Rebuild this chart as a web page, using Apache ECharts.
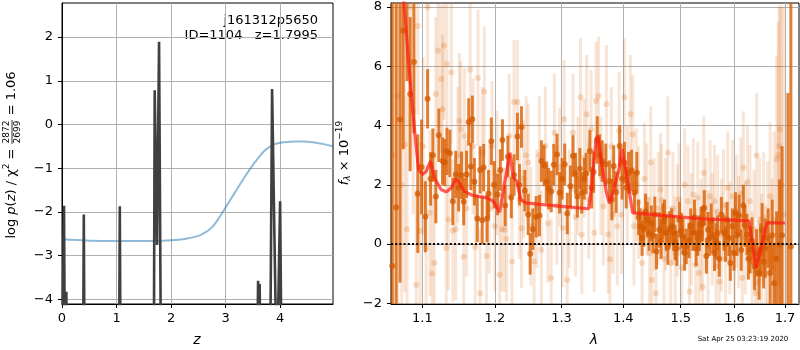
<!DOCTYPE html>
<html><head><meta charset="utf-8">
<script src="https://cdn.jsdelivr.net/npm/echarts@6/dist/echarts.min.js"></script>
<style>html,body{margin:0;padding:0;background:#fff}#c{width:800px;height:350px}</style>
</head><body><div id="c"></div>
<script>
// ---- tick labels ----
const zTicks = [0, 1, 2, 3, 4];
const pzTicks = [-4, -3, -2, -1, 0, 1, 2];
const lamTicks = [1.1, 1.2, 1.3, 1.4, 1.5, 1.6, 1.7];
const fluxTicks = [-2, 0, 2, 4, 6, 8];

// ---- left panel: log p(z) (black) and prior-like curve (blue) ----
const pzBlack = [
  [0.000,-6],[0.025,-6],[0.037,-1.86],[0.055,-6],[0.070,-6],[0.080,-3.83],[0.090,-6],
  [0.385,-6],[0.400,-2.06],[0.415,-6],
  [1.045,-6],[1.060,-1.87],[1.075,-6],
  [1.683,-6],[1.700,0.78],[1.743,-2.76],[1.780,1.89],[1.817,-6],
  [3.575,-6],[3.596,-3.58],[3.610,-3.9],[3.625,-3.65],[3.645,-6],
  [3.815,-6],[3.853,0.81],[3.940,-6],[3.950,-6],[4.000,-1.76],[4.030,-6],[4.970,-6]
];
const pzBlue = [
  [0.0,-2.63],[0.5,-2.66],[1.0,-2.67],[1.5,-2.67],[2.0,-2.65],[2.25,-2.62],[2.5,-2.55],
  [2.6,-2.49],[2.7,-2.41],[2.8,-2.28],[2.9,-2.1],[3.0,-1.9],[3.1,-1.7],[3.2,-1.5],[3.3,-1.3],
  [3.4,-1.11],[3.5,-0.93],[3.6,-0.77],[3.7,-0.62],[3.8,-0.52],[3.9,-0.45],[4.0,-0.42],
  [4.15,-0.40],[4.3,-0.39],[4.45,-0.39],[4.6,-0.41],[4.8,-0.45],[4.97,-0.5]
];

// ---- right panel: spectrum [lambda, flux, err] ----
const darkSpec = [
  [1.061,-0.74,12],[1.066,1.23,12],[1.071,4.2,5.5],[1.075,7.2,4],[1.080,9.0,3.5],[1.084,5.06,2.6],
  [1.089,6.14,2.4],[1.094,1.7,2.0],[1.099,2.6,1.6],[1.104,0.92,1.2],[1.107,4.9,1.0],[1.111,2.2,0.9],
  [1.114,3.0,0.9],[1.118,1.6,0.9],[1.122,3.67,0.9],[1.127,2.8,0.8],[1.130,2.75,0.8],[1.133,3.13,0.8],
  [1.137,3.06,0.8],[1.141,1.44,0.8],[1.145,2.35,0.8],[1.149,1.9,0.8],[1.153,2.32,0.8],[1.156,1.43,0.8],
  [1.160,2.35,0.8],[1.163,4.12,0.8],[1.166,2.62,0.8],[1.168,4.21,0.8],[1.171,2.1,0.8],[1.175,0.86,0.8],
  [1.179,2.5,0.8],[1.182,0.8,0.8],[1.184,2.58,0.8],[1.189,0.86,0.8],[1.191,1.7,0.8],[1.195,3.47,0.8],
  [1.199,2.0,0.8],
  [1.204,1.67,0.7],[1.208,2.5,0.7],[1.211,3.51,0.7],[1.215,1.3,0.7],[1.219,2.95,0.7],[1.224,1.57,0.7],
  [1.228,2.33,0.7],[1.233,3.63,0.8],[1.236,2.0,0.7],[1.239,3.95,0.7],[1.244,1.8,0.7],[1.249,1.0,0.7],
  [1.252,-0.33,0.7],[1.256,0.5,0.7],[1.261,0.92,0.7],[1.266,0.96,0.7],[1.269,2.8,0.7],[1.273,2.65,0.7],
  [1.277,2.09,0.7],[1.280,1.87,0.7],[1.284,1.77,0.7],[1.288,2.68,0.7],[1.293,3.02,0.7],[1.297,1.73,0.7],
  [1.301,2.2,0.7],[1.305,2.69,0.7],[1.309,1.03,0.7],[1.314,1.95,0.7],[1.318,2.97,0.7],[1.322,2.38,0.7],
  [1.325,1.6,0.7],[1.329,2.54,0.7],[1.332,1.73,0.7],[1.336,2.2,0.7],[1.339,2.38,0.7],[1.345,3.14,0.7],
  [1.348,1.9,0.7],[1.351,2.43,0.7],[1.357,3.51,0.8],[1.361,3.0,0.7],[1.365,2.8,0.7],[1.371,2.69,0.7],
  [1.377,2.12,0.7],[1.381,1.5,0.7],[1.384,2.63,0.7],[1.388,1.75,0.7],[1.394,3.31,0.7],[1.398,2.2,0.7],
  [1.402,2.75,0.7],[1.405,1.9,0.7],[1.409,2.41,0.7],[1.414,2.48,0.7],[1.419,1.73,0.7],[1.423,2.41,0.7],
  [1.426,0.9,0.6],[1.429,0.6,0.6],[1.432,0.2,0.6],[1.435,0.51,0.6],[1.438,1.1,0.6],[1.441,0.82,0.6],
  [1.444,0.37,0.6],[1.448,0.7,0.6],[1.451,0.3,0.6],[1.454,1.0,0.6],[1.457,-0.25,0.6],[1.462,0.48,0.6],
  [1.465,0.1,0.6],[1.468,0.77,0.6],[1.471,0.9,0.6],[1.474,0.37,0.6],[1.477,-0.1,0.6],[1.480,0.51,0.6],
  [1.484,0.6,0.6],[1.487,0.37,0.6],[1.490,0.05,0.6],[1.493,-0.14,0.6],[1.498,0.82,0.6],[1.501,0.45,0.6],
  [1.504,0.26,0.6],[1.507,-0.3,0.6],[1.510,-0.08,0.6],[1.515,0.12,0.6],[1.518,0.6,0.6],[1.522,0.37,0.6],
  [1.525,0.9,0.6],[1.528,-0.14,0.6],[1.531,0.2,0.6],[1.534,0.37,0.6],[1.537,0.65,0.6],[1.540,0.69,0.6],
  [1.543,1.22,0.6],[1.547,-0.4,0.6],[1.550,0.48,0.6],[1.553,0.2,0.6],[1.556,0.77,0.6],[1.559,0.3,0.6],
  [1.562,-0.31,0.6],[1.565,0.1,0.6],[1.568,0.37,0.6],[1.571,-0.5,0.6],[1.575,0.99,0.6],[1.580,0.37,0.6],
  [1.583,0.0,0.6],[1.586,0.82,0.6],[1.589,0.2,0.6],[1.592,-0.64,0.6],[1.596,0.6,0.6],[1.599,-0.3,0.6],
  [1.602,1.05,0.7],[1.605,0.3,0.7],[1.609,0.96,0.7],[1.613,-0.2,0.7],[1.617,1.3,0.7],[1.620,0.6,0.7],
  [1.624,0.32,0.7],[1.627,-0.5,0.7],[1.630,-0.19,0.8],[1.634,0.1,0.8],[1.639,-0.76,0.8],[1.643,-0.3,0.8],
  [1.648,-0.98,0.9],[1.651,-0.2,0.9],[1.654,0.48,0.9],[1.657,-0.6,0.9],[1.660,-0.14,1.0],[1.666,0.2,1.0],
  [1.670,-0.98,1.1],[1.674,0.3,1.2],[1.678,-1.32,1.3],[1.683,-0.5,1.6],[1.689,-0.02,2.2],[1.694,0.3,3.0],
  [1.706,-3.5,8.6],[1.712,-0.08,12]
];
const lightSpec = [
  [1.062,3.0,9],[1.068,5.0,8],[1.073,2.0,6],[1.077,3.36,5],[1.080,0.5,4.5],[1.084,8.0,4],[1.088,4.5,3.5],
  [1.092,-1.38,3.2],[1.094,7.36,3.0],[1.097,0.45,3.0],[1.101,3.3,3.0],[1.105,-0.13,2.8],[1.107,8.0,2.8],
  [1.110,1.05,2.8],[1.113,-1.0,2.6],[1.116,-0.64,2.6],[1.118,5.06,2.6],[1.121,6.53,2.6],[1.125,5.57,2.5],
  [1.127,4.55,2.5],[1.129,6.7,2.5],[1.132,-0.13,2.4],[1.133,6.08,2.4],[1.135,0.83,2.4],[1.139,5.8,2.4],
  [1.141,0.45,2.4],[1.145,0.5,2.4],[1.148,3.0,2.3],[1.150,4.15,2.3],[1.152,3.87,2.3],[1.156,-0.43,2.3],
  [1.157,3.65,2.3],[1.160,1.2,2.3],[1.165,5.88,2.3],[1.169,3.3,2.3],[1.172,-0.1,2.3],[1.176,5.6,2.3],
  [1.179,-1.66,2.2],[1.182,3.1,2.2],[1.185,5.15,2.2],[1.188,-0.4,2.2],[1.192,1.2,2.2],[1.196,3.3,2.2],
  [1.200,0.6,2.2],[1.203,2.4,2.1],[1.207,-1.04,2.1],[1.210,0.5,2.1],[1.214,0.48,2.1],[1.217,0.17,2.1],
  [1.221,3.65,2.1],[1.225,-0.59,2.1],[1.228,4.79,2.1],[1.233,4.79,2.1],[1.236,1.5,2.0],[1.239,0.52,2.0],
  [1.242,2.2,2.0],[1.246,3.0,2.0],[1.249,2.75,2.0],[1.253,0.6,2.0],[1.258,-0.59,2.0],[1.262,1.2,2.0],
  [1.266,3.0,2.0],[1.269,-0.19,2.0],[1.275,3.31,2.0],[1.279,0.69,2.0],[1.284,-1.15,2.0],[1.289,3.76,2.0],
  [1.293,1.3,2.0],[1.297,2.6,2.0],[1.302,0.54,2.0],[1.304,4.21,2.0],[1.309,-1.21,2.0],[1.312,1.2,2.0],
  [1.318,3.76,2.0],[1.322,0.9,2.0],[1.326,2.3,2.0],[1.330,4.95,2.0],[1.332,0.31,2.0],[1.336,2.9,2.0],
  [1.340,4.38,2.0],[1.343,1.5,2.0],[1.347,3.87,2.0],[1.352,0.38,2.0],[1.355,4.83,2.0],[1.359,5.0,2.0],
  [1.363,2.3,2.0],[1.367,1.27,2.0],[1.372,4.72,2.0],[1.375,0.32,2.0],[1.378,-0.51,2.0],[1.380,3.3,2.0],
  [1.383,1.0,2.0],[1.390,0.6,2.0],[1.393,3.82,2.0],[1.397,0.99,2.0],[1.402,4.95,2.0],[1.407,2.0,2.0],
  [1.412,4.38,2.0],[1.416,3.7,2.0],[1.418,0.6,2.0],[1.422,2.0,1.9],[1.426,1.4,1.9],[1.432,-0.64,1.9],
  [1.436,2.2,1.9],[1.440,1.5,1.9],[1.445,-0.3,1.9],[1.447,2.75,1.9],[1.449,-1.21,1.9],[1.453,1.0,1.9],
  [1.456,-1.66,1.9],[1.460,1.2,1.9],[1.464,1.84,1.9],[1.466,1.48,1.9],[1.470,-0.5,1.9],[1.473,1.0,1.9],
  [1.477,3.08,1.9],[1.482,-0.64,1.9],[1.486,1.2,1.9],[1.490,-0.3,1.9],[1.494,0.8,1.9],[1.497,1.5,1.9],
  [1.502,-0.8,1.9],[1.507,2.0,1.9],[1.513,1.44,1.9],[1.516,-1.6,1.9],[1.519,0.5,1.9],[1.523,1.67,1.9],
  [1.527,-0.7,1.9],[1.531,1.56,1.9],[1.533,-0.98,1.9],[1.537,0.3,1.9],[1.540,-1.44,1.9],[1.542,2.41,1.9],
  [1.546,1.0,1.9],[1.550,-0.1,1.9],[1.554,1.6,1.9],[1.558,0.5,1.9],[1.562,1.44,1.9],[1.565,-0.76,1.9],
  [1.568,1.1,1.9],[1.571,-1.27,1.9],[1.575,0.3,1.9],[1.579,1.3,1.9],[1.583,-0.5,1.9],[1.587,1.9,1.9],
  [1.591,0.2,1.9],[1.596,1.61,1.9],[1.600,-0.3,1.9],[1.604,1.1,1.9],[1.608,0.4,1.9],[1.612,1.7,1.9],
  [1.615,-1.15,1.9],[1.617,2.58,1.9],[1.621,0.2,1.9],[1.625,2.09,1.9],[1.630,1.44,1.9],[1.634,-0.9,2.0],
  [1.638,0.5,2.0],[1.641,-1.66,2.1],[1.643,2.99,2.1],[1.646,-1.3,2.1],[1.649,0.82,2.1],[1.653,-0.5,2.2],
  [1.657,0.9,2.2],[1.661,-1.0,2.3],[1.665,0.4,2.4],[1.670,1.61,2.5],[1.674,-0.4,2.6],[1.678,0.8,3.0],
  [1.683,2.86,3.5],[1.686,3.0,4.5],[1.688,3.3,4.7],[1.690,3.87,4.2],[1.693,2.0,6.0],[1.697,1.0,7.0]
];
const modelLine = [
  [1.072,9.0],[1.076,8.15],[1.082,6.15],[1.085,5.2],[1.090,3.77],[1.095,2.52],[1.100,2.35],[1.105,2.45],
  [1.111,2.8],[1.116,2.24],[1.125,1.84],[1.132,1.76],[1.139,1.9],[1.145,2.2],[1.149,2.1],[1.157,1.78],
  [1.168,1.64],[1.178,1.6],[1.189,1.56],[1.198,1.44],[1.207,1.07],[1.213,1.9],[1.222,3.08],[1.227,2.24],
  [1.232,2.12],[1.238,1.5],[1.245,1.39],[1.300,1.27],[1.343,1.19],[1.348,1.95],[1.355,3.54],[1.358,3.65],
  [1.363,2.86],[1.372,1.74],[1.377,1.37],[1.384,1.84],[1.393,2.52],[1.398,3.22],[1.405,2.41],[1.416,1.05],
  [1.540,0.85],[1.628,0.78],[1.642,-0.8],[1.664,0.72],[1.700,0.71]
];
const zeroLine = [[1.0594,0],[1.7288,0]];

const FF = 'DejaVu Sans';
const minus = v => String(v).replace('-', '\u2212');

function errSeries(data, color, w, z) {
  return {
    type: 'custom', xAxisIndex: 1, yAxisIndex: 1, clip: true, silent: true, z: z,
    data: data.map(d => [d[0], d[1], d[2]]),
    encode: { x: 0, y: 1 },
    renderItem: function (p, api) {
      const x = api.value(0), y = api.value(1), e = api.value(2);
      const a = api.coord([x, y + e]), b = api.coord([x, y - e]);
      return { type: 'rect', shape: { x: a[0] - w / 2, y: a[1], width: w, height: b[1] - a[1] }, style: { fill: color } };
    }
  };
}
function ptSeries(data, color, size, z) {
  return {
    type: 'scatter', xAxisIndex: 1, yAxisIndex: 1, clip: true, silent: true, z: z,
    symbol: 'circle', symbolSize: size, data: data.map(d => [d[0], d[1]]),
    itemStyle: { color: color, borderWidth: 0 }
  };
}

function textW(t, font) {
  return new echarts.graphic.Text({ style: { text: t, font: font } }).getBoundingRect().width;
}
// pieces laid along a rotated baseline (reads bottom-to-top)
function rotLabel(cx, cy, pieces) {
  const ws = pieces.map(p => p.frac ? Math.max(textW(p.frac[0], p.font), textW(p.frac[1], p.font)) + 2 : textW(p.t, p.font));
  const total = ws.reduce((a, b) => a + b, 0);
  let x = -total / 2;
  const children = [];
  pieces.forEach((p, i) => {
    if (p.frac) {
      const mid = x + ws[i] / 2;
      children.push({ type: 'text', x: mid, y: -1.2, style: { text: p.frac[0], font: p.font, fill: '#000', align: 'center', verticalAlign: 'bottom', textAlign: 'center', textVerticalAlign: 'bottom' } });
      children.push({ type: 'text', x: mid, y: 1.0, style: { text: p.frac[1], font: p.font, fill: '#000', align: 'center', verticalAlign: 'top', textAlign: 'center', textVerticalAlign: 'top' } });
      children.push({ type: 'line', shape: { x1: x + 0.5, y1: 0, x2: x + ws[i] - 0.5, y2: 0 }, style: { stroke: '#000', lineWidth: 0.8 } });
    } else {
      children.push({ type: 'text', x: x, y: p.dy || 0, style: { text: p.t, font: p.font, fill: '#000', align: 'left', verticalAlign: 'middle', textAlign: 'left', textVerticalAlign: 'middle' } });
    }
    x += ws[i];
  });
  return { type: 'group', x: cx, y: cy, rotation: Math.PI / 2, children: children, silent: true };
}

const chart = echarts.init(document.getElementById('c'), null, { renderer: 'canvas' });
const N = '13px "' + FF + '"', I = 'italic 13px "' + FF + '"', S = '9px "' + FF + '"', SI = 'italic 9px "' + FF + '"';

const axisCommon = {
  axisLine: { show: true, onZero: false, lineStyle: { color: '#000', width: 1 } },
  splitLine: { show: true, lineStyle: { color: '#b0b0b0', width: 1 } },
};

chart.setOption({
  animation: false,
  backgroundColor: '#fff',
  grid: [
    { left: 62, top: 3, width: 271, height: 301, show: true, borderColor: '#000', borderWidth: 1, backgroundColor: 'transparent' },
    { left: 391, top: 3, width: 408, height: 301, show: true, borderColor: '#000', borderWidth: 1, backgroundColor: 'transparent' }
  ],
  xAxis: [
    Object.assign({ gridIndex: 0, type: 'value', min: 0, max: 4.97, interval: 1,
      axisTick: { show: true, length: 4, inside: false, customValues: zTicks, lineStyle: { color: '#000' } },
      axisLabel: { customValues: zTicks, fontFamily: FF, fontSize: 13, color: '#000', margin: 8, formatter: v => minus(v) } }, axisCommon),
    Object.assign({ gridIndex: 1, type: 'log', logBase: 10, min: 1.0594, max: 1.7288,
      axisTick: { show: true, length: 4, inside: false, customValues: lamTicks, lineStyle: { color: '#000' } },
      axisLabel: { customValues: lamTicks, fontFamily: FF, fontSize: 13, color: '#000', margin: 8, formatter: v => Number(v).toFixed(1) },
      minorTick: { show: false }, minorSplitLine: { show: false } }, axisCommon)
  ],
  yAxis: [
    Object.assign({ gridIndex: 0, type: 'value', min: -4.11, max: 2.78,
      axisTick: { show: true, length: 4, inside: false, customValues: pzTicks, lineStyle: { color: '#000' } },
      axisLabel: { customValues: pzTicks, fontFamily: FF, fontSize: 13, color: '#000', margin: 9, formatter: v => minus(v) } }, axisCommon),
    Object.assign({ gridIndex: 1, type: 'value', min: -2.024, max: 8.135,
      axisTick: { show: true, length: 4, inside: false, customValues: fluxTicks, lineStyle: { color: '#000' } },
      axisLabel: { customValues: fluxTicks, fontFamily: FF, fontSize: 13, color: '#000', margin: 9, formatter: v => minus(v) } }, axisCommon)
  ],
  series: [
    { type: 'line', xAxisIndex: 0, yAxisIndex: 0, data: pzBlue, smooth: 0.4, showSymbol: false, clip: true, z: 2,
      lineStyle: { color: 'rgba(31,119,180,0.5)', width: 2 } },
    { type: 'line', xAxisIndex: 0, yAxisIndex: 0, data: pzBlack, showSymbol: false, clip: true, z: 3,
      lineStyle: { color: '#404040', width: 2.6, join: 'miter' } },
    errSeries(lightSpec, 'rgba(217,95,2,0.16)', 3, 2),
    ptSeries(lightSpec, 'rgba(217,95,2,0.26)', 6, 3),
    errSeries(darkSpec, 'rgba(217,95,2,0.8)', 3, 4),
    ptSeries(darkSpec, 'rgba(210,90,2,0.92)', 6, 5),
    { type: 'line', xAxisIndex: 1, yAxisIndex: 1, data: modelLine, showSymbol: false, clip: true, z: 6,
      lineStyle: { color: 'rgba(255,25,20,0.7)', width: 3.2 } },
    { type: 'line', xAxisIndex: 1, yAxisIndex: 1, data: zeroLine, showSymbol: false, clip: true, z: 7,
      lineStyle: { color: '#000', width: 2, type: [2, 2.2] } }
  ],
  graphic: [
    { type: 'text', x: 318, y: 21, silent: true, style: { text: 'j161312p5650', font: N, fill: '#000', align: 'right', verticalAlign: 'middle', textAlign: 'right', textVerticalAlign: 'middle' } },
    { type: 'text', x: 318, y: 36, silent: true, style: { text: 'ID=1104   z=1.7995', font: N, fill: '#000', align: 'right', verticalAlign: 'middle', textAlign: 'right', textVerticalAlign: 'middle' } },
    { type: 'text', x: 197, y: 340, silent: true, style: { text: 'z', font: 'italic 14px "' + FF + '"', fill: '#000', align: 'center', verticalAlign: 'middle', textAlign: 'center', textVerticalAlign: 'middle' } },
    { type: 'text', x: 594, y: 340, silent: true, style: { text: 'λ', font: 'italic 14px "' + FF + '"', fill: '#000', align: 'center', verticalAlign: 'middle', textAlign: 'center', textVerticalAlign: 'middle' } },
    { type: 'text', x: 743, y: 339, silent: true, style: { text: 'Sat Apr 25 03:23:19 2020', font: '7px "' + FF + '"', fill: '#000', align: 'center', verticalAlign: 'middle', textAlign: 'center', textVerticalAlign: 'middle' } },
    rotLabel(12, 155, [
      { t: 'log ', font: N }, { t: 'p', font: I }, { t: '(', font: N }, { t: 'z', font: I },
      { t: ') / χ', font: N }, { t: '2', font: S, dy: -5 }, { t: ' = ', font: N },
      { frac: ['2872', '2699'], font: S }, { t: ' = 1.06', font: N }
    ]),
    rotLabel(345, 153, [
      { t: 'f', font: I }, { t: 'λ', font: SI, dy: 3 }, { t: ' × 10', font: N }, { t: '\u221219', font: S, dy: -5 }
    ])
  ]
});
</script></body></html>
